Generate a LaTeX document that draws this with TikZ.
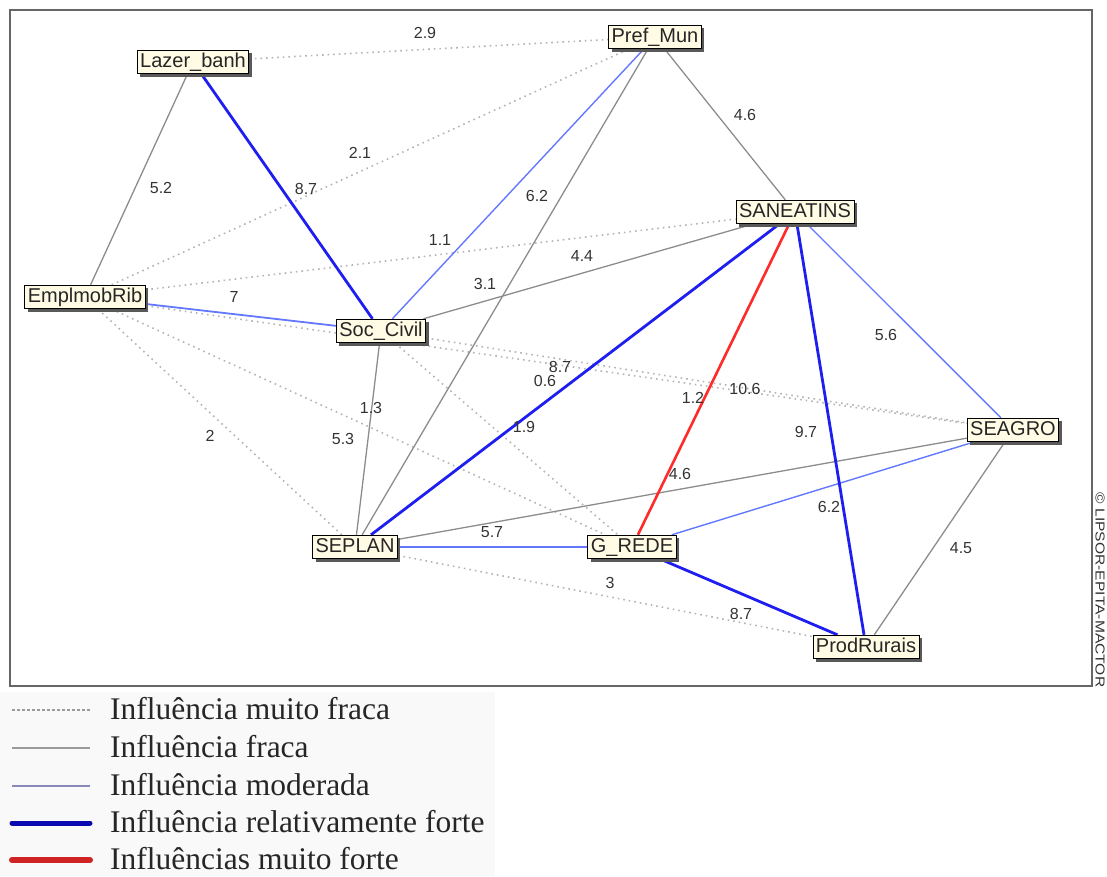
\documentclass[tikz,border=0pt]{standalone}
\usepackage{fontspec}
\setmainfont{Liberation Serif}
\newfontfamily\nodefont{Liberation Sans}
\usetikzlibrary{shadows}
\definecolor{nodefill}{HTML}{FFFBE4}
\definecolor{dotgray}{HTML}{B4B4B4}
\definecolor{weakgray}{HTML}{8C8C8C}
\definecolor{modblue}{HTML}{6478FF}
\definecolor{strongblue}{HTML}{1E1EF0}
\definecolor{strongred}{HTML}{FF2A2A}
\definecolor{lgdash}{HTML}{9A9A9A}
\definecolor{lgweak}{HTML}{9A9A9A}
\definecolor{lgmod}{HTML}{8A8AB8}
\definecolor{lgstrong}{HTML}{0A0AB0}
\definecolor{lgred}{HTML}{D02424}
\pgfdeclarelayer{bg}
\pgfsetlayers{bg,main}
\tikzset{
  actor/.style={draw=black, line width=0.9pt, fill=nodefill,
    drop shadow={shadow xshift=3pt, shadow yshift=-3pt, fill=black!65, opacity=1},
    font=\nodefont\fontsize{20}{20}\selectfont, text=black!85,
    text height=15pt, text depth=4.5pt, inner xsep=3pt, inner ysep=2pt},
  val/.style={font=\nodefont\fontsize{16}{16}\selectfont, text=black!80, inner sep=0pt},
  vweak/.style={draw=dotgray, line width=1.6pt, dash pattern=on 1.6pt off 4pt},
  weak/.style={draw=weakgray, line width=1.3pt},
  moderate/.style={draw=modblue, line width=1.4pt},
  strong/.style={draw=strongblue, line width=2.8pt},
  vstrong/.style={draw=strongred, line width=2.6pt},
  lgtext/.style={anchor=base west, font=\fontsize{31.5}{31.5}\selectfont, text=black!85, inner sep=0pt}
}
\begin{document}
\begin{tikzpicture}[x=1pt,y=-1pt]
\useasboundingbox (0,0) rectangle (1107,876);
\fill[gray!5] (0,692) rectangle (495,876);

% actors
\node[actor] (lazer)  at (193,62)  {Lazer\_banh};
\node[actor] (pref)   at (655,37)  {Pref\_Mun};
\node[actor] (sane)   at (795,212) {SANEATINS};
\node[actor] (empl)   at (85,297)  {EmplmobRib};
\node[actor] (soc)    at (381,331) {Soc\_Civil};
\node[actor] (seplan) at (355,547) {SEPLAN};
\node[actor] (grede)  at (632,547) {G\_REDE};
\node[actor] (seagro) at (1013,430) {SEAGRO};
\node[actor] (prod)   at (866,647) {ProdRurais};

\begin{pgfonlayer}{bg}
\draw[draw=black!60, line width=2pt] (10,10) rectangle (1092,686);
% very weak
\draw[vweak] (lazer) -- (pref);
\draw[vweak] (empl) -- (pref);
\draw[vweak] (empl) -- (sane);
\draw[vweak] (empl) -- (seplan);
\draw[vweak] (empl) -- (grede);
\draw[vweak] (empl.center) -- (seagro);
\draw[vweak] (soc) -- (seagro);
\draw[vweak] (soc) -- (grede);
\draw[vweak] (seplan) -- (prod);
% weak
\draw[weak] (lazer) -- (empl);
\draw[weak] (pref) -- (sane);
\draw[weak] (pref) -- (seplan);
\draw[weak] (soc) -- (sane);
\draw[weak] (soc) -- (seplan);
\draw[weak] (seplan) -- (seagro);
\draw[weak] (seagro) -- (prod);
% moderate
\draw[moderate] (pref) -- (soc);
\draw[moderate, line width=1.8pt] (empl) -- (soc);
\draw[moderate] (sane) -- (seagro);
\draw[moderate] (seplan) -- (grede);
\draw[moderate] (grede) -- (seagro);
% relatively strong
\draw[strong] (lazer) -- (soc);
\draw[strong] (seplan) -- (sane);
\draw[strong] (sane) -- (prod);
\draw[strong] (grede) -- (prod);
% very strong
\draw[vstrong] (sane) -- (grede);
\end{pgfonlayer}

% values
\node[val] (v1)  at (425,33)  {2.9};
\node[val] (v2)  at (360,153) {2.1};
\node[val] (v3)  at (306,189) {8.7};
\node[val] (v4)  at (161,188) {5.2};
\node[val] (v5)  at (537,196) {6.2};
\node[val] (v6)  at (745,115) {4.6};
\node[val] (v7)  at (440,240) {1.1};
\node[val] (v8)  at (582,256) {4.4};
\node[val] (v9)  at (485,284) {3.1};
\node[val] (v10) at (234,297) {7};
\node[val] (v11) at (886,335) {5.6};
\node[val] (v12) at (560,367) {8.7};
\node[val] (v13) at (545,381) {0.6};
\node[val] (v14) at (745,389) {10.6};
\node[val] (v15) at (693,398) {1.2};
\node[val] (v16) at (371,408) {1.3};
\node[val] (v17) at (210,436) {2};
\node[val] (v18) at (806,432) {9.7};
\node[val] (v19) at (524,427) {1.9};
\node[val] (v20) at (343,439) {5.3};
\node[val] (v21) at (680,474) {4.6};
\node[val] (v22) at (829,507) {6.2};
\node[val] (v23) at (961,548) {4.5};
\node[val] (v24) at (492,532) {5.7};
\node[val] (v25) at (610,583) {3};
\node[val] (v26) at (741,614) {8.7};

% copyright
\node[font=\nodefont\fontsize{13}{13}\selectfont, text=black!80, rotate=-90, inner sep=0pt] (copy) at (1100,590) {\scalebox{1.2}[1]{\textcopyright\ LIPSOR-EPITA-MACTOR}};

% legend
\coordinate (l1a) at (12,710); \coordinate (l1b) at (90,710);
\coordinate (l2a) at (12,748); \coordinate (l2b) at (90,748);
\coordinate (l3a) at (12,786); \coordinate (l3b) at (90,786);
\coordinate (l4a) at (12,823); \coordinate (l4b) at (90,823);
\coordinate (l5a) at (12,860); \coordinate (l5b) at (90,860);
\draw[draw=lgdash, line width=1.2pt, dash pattern=on 3pt off 2pt] (l1a) -- (l1b);
\draw[draw=lgweak, line width=2.4pt] (l2a) -- (l2b);
\draw[draw=lgmod, line width=2.6pt] (l3a) -- (l3b);
\draw[draw=lgstrong, line width=5pt, line cap=round] (l4a) -- (l4b);
\draw[draw=lgred, line width=6pt, line cap=round] (l5a) -- (l5b);
\node[lgtext] (t1) at (110,719) {Influência muito fraca};
\node[lgtext] (t2) at (110,757) {Influência fraca};
\node[lgtext] (t3) at (110,795) {Influência moderada};
\node[lgtext] (t4) at (110,832) {Influência relativamente forte};
\node[lgtext] (t5) at (110,869) {Influências muito forte};
\end{tikzpicture}
\end{document}
